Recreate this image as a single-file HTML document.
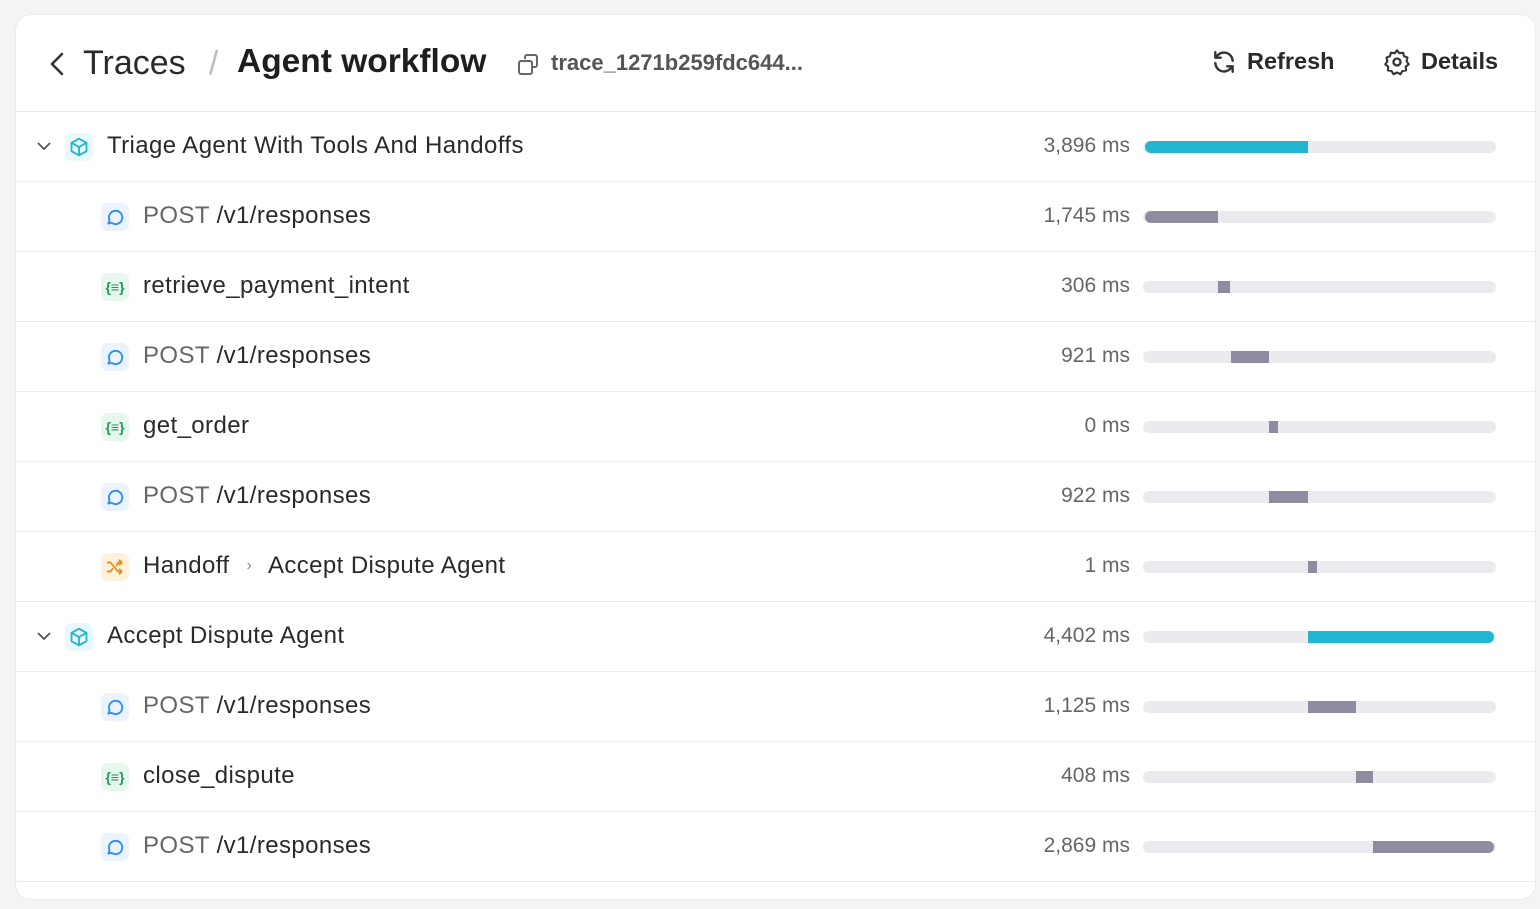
<!DOCTYPE html>
<html><head><meta charset="utf-8"><style>
*{box-sizing:border-box;margin:0;padding:0}
body{width:1540px;height:909px;background:#f4f4f5;font-family:"Liberation Sans",sans-serif;position:relative;overflow:hidden;color:#222}
.card{position:absolute;left:15px;top:14px;width:1521px;height:886px;background:#fff;border-radius:16px;border:1px solid #ececee}
.hdr{position:absolute;left:0;top:0;width:100%;height:97px;border-bottom:1px solid #e8e8ea}
.t{position:absolute;white-space:nowrap}
.row{position:absolute;left:0;width:100%;height:70px;border-bottom:1px solid #ececee}
.ic{position:absolute;top:21px;width:28px;height:28px;border-radius:7px;display:flex;align-items:center;justify-content:center}
.nm{position:absolute;top:20px;font-size:24px;letter-spacing:0.4px;color:#2a2a2a;white-space:nowrap}
.ms{position:absolute;right:405px;top:22px;font-size:21px;color:#666;white-space:nowrap}
.trk{position:absolute;left:1127px;top:29px;width:353px;height:12px;border-radius:6px;background:#ebebef;overflow:hidden}
.f{position:absolute;top:0;height:12px;background:#8e8ca0}
.c{background:#22b5d0}
</style></head><body>
<div class="card">
 <div class="hdr">
  <svg class="t" style="left:32px;top:36px" width="18" height="26" viewBox="0 0 18 26"><path d="M14 3 L4 13 L14 23" stroke="#333" stroke-width="2.6" fill="none" stroke-linecap="round" stroke-linejoin="round"/></svg>
  <div class="t" style="left:67px;top:29px;font-size:34px;color:#2a2a2a">Traces</div>
  <div class="t" style="left:193px;top:29px;font-size:33px;color:#bbb">/</div>
  <div class="t" style="left:221px;top:28px;font-size:33.5px;font-weight:bold;color:#1e1e1e">Agent workflow</div>
  <svg class="t" style="left:501px;top:38px" width="24" height="24" viewBox="0 0 24 24"><rect x="2" y="8" width="13" height="13" rx="2" fill="none" stroke="#666" stroke-width="2"/><path d="M8 6V4a2 2 0 0 1 2-2h8a2 2 0 0 1 2 2v8a2 2 0 0 1-2 2h-2" fill="none" stroke="#666" stroke-width="2"/></svg>
  <div class="t" style="left:535px;top:35px;font-size:22px;color:#555;font-weight:bold">trace_1271b259fdc644...</div>
  <svg class="t" style="left:1195px;top:34px" width="26" height="26" viewBox="0 0 24 24"><path d="M20 11a8 8 0 0 0-14-5L4 8M4 3v5h5M4 13a8 8 0 0 0 14 5l2-2M20 21v-5h-5" fill="none" stroke="#333" stroke-width="2.2" stroke-linecap="round" stroke-linejoin="round"/></svg>
  <div class="t" style="left:1231px;top:33px;font-size:23.5px;font-weight:bold;color:#2a2a2a">Refresh</div>
  <svg class="t" style="left:1367px;top:33px" width="28" height="28" viewBox="0 0 24 24"><path d="M12 2l2 2.5 3.2-.5.8 3 3 1.2-.8 3L22 14l-2.5 2 .3 3.2-3.2.5L15 22.5 12 21l-3 1.5-1.6-2.8-3.2-.5.3-3.2L2 14l1.8-2.8-.8-3L6 7l.8-3 3.2.5z" fill="none" stroke="#333" stroke-width="1.8" stroke-linejoin="round"/><circle cx="12" cy="12" r="3" fill="none" stroke="#333" stroke-width="2"/></svg>
  <div class="t" style="left:1405px;top:33px;font-size:23.5px;font-weight:bold;color:#2a2a2a">Details</div>
 </div>
 <div class="row" style="top:97px">
  <svg class="t" style="left:20px;top:28px" width="16" height="12"><path d="M2 3l6 6 6-6" stroke="#555" stroke-width="1.8" fill="none"/></svg>
  <div class="ic" style="left:49px;background:#e8f8fb"><svg width="20" height="20" viewBox="0 0 24 24"><path d="M12 2l9 5v10l-9 5-9-5V7z M3 7l9 5 9-5 M12 12v10" fill="none" stroke="#22b5d0" stroke-width="2.2" stroke-linejoin="round"/></svg></div>
  <div class="nm" style="left:91px">Triage Agent With Tools And Handoffs</div>
  <div class="ms">3,896 ms</div><div class="trk"><div class="f c" style="left:2px;width:163px;border-radius:6px 0 0 6px"></div></div>
 </div>
 <div class="row" style="top:167px">
  <div class="ic" style="left:85px;background:#eaf3fe"><svg width="20" height="20" viewBox="0 0 24 24"><path d="M4 20l1.5-4A8 8 0 1 1 8 19z" fill="none" stroke="#2d8cf0" stroke-width="2.2" stroke-linejoin="round"/></svg></div>
  <div class="nm" style="left:127px"><span style="color:#666">POST</span> /v1/responses</div>
  <div class="ms">1,745 ms</div><div class="trk"><div class="f" style="left:2px;width:73px;border-radius:6px 0 0 6px"></div></div>
 </div>
 <div class="row" style="top:237px">
  <div class="ic" style="left:85px;background:#e8f7ee;color:#1a9a5a;font-size:14px;font-weight:bold">{≡}</div>
  <div class="nm" style="left:127px">retrieve_payment_intent</div>
  <div class="ms">306 ms</div><div class="trk"><div class="f" style="left:75px;width:12px"></div></div>
 </div>
 <div class="row" style="top:307px">
  <div class="ic" style="left:85px;background:#eaf3fe"><svg width="20" height="20" viewBox="0 0 24 24"><path d="M4 20l1.5-4A8 8 0 1 1 8 19z" fill="none" stroke="#2d8cf0" stroke-width="2.2" stroke-linejoin="round"/></svg></div>
  <div class="nm" style="left:127px"><span style="color:#666">POST</span> /v1/responses</div>
  <div class="ms">921 ms</div><div class="trk"><div class="f" style="left:88px;width:38px"></div></div>
 </div>
 <div class="row" style="top:377px">
  <div class="ic" style="left:85px;background:#e8f7ee;color:#1a9a5a;font-size:14px;font-weight:bold">{≡}</div>
  <div class="nm" style="left:127px">get_order</div>
  <div class="ms">0 ms</div><div class="trk"><div class="f" style="left:126px;width:9px"></div></div>
 </div>
 <div class="row" style="top:447px">
  <div class="ic" style="left:85px;background:#eaf3fe"><svg width="20" height="20" viewBox="0 0 24 24"><path d="M4 20l1.5-4A8 8 0 1 1 8 19z" fill="none" stroke="#2d8cf0" stroke-width="2.2" stroke-linejoin="round"/></svg></div>
  <div class="nm" style="left:127px"><span style="color:#666">POST</span> /v1/responses</div>
  <div class="ms">922 ms</div><div class="trk"><div class="f" style="left:126px;width:39px"></div></div>
 </div>
 <div class="row" style="top:517px">
  <div class="ic" style="left:85px;background:#fdf1dc"><svg width="18" height="18" viewBox="0 0 24 24"><path d="M2 6h4l10 12h5M2 18h4l3-4M14 10l2-4h5M18 3l3 3-3 3M18 15l3 3-3 3" fill="none" stroke="#e08a10" stroke-width="2.2" stroke-linecap="round" stroke-linejoin="round"/></svg></div>
  <div class="nm" style="left:127px">Handoff <span style="color:#888;font-size:16px;margin:0 10px;position:relative;top:-3px">›</span> Accept Dispute Agent</div>
  <div class="ms">1 ms</div><div class="trk"><div class="f" style="left:165px;width:9px"></div></div>
 </div>
 <div class="row" style="top:587px">
  <svg class="t" style="left:20px;top:28px" width="16" height="12"><path d="M2 3l6 6 6-6" stroke="#555" stroke-width="1.8" fill="none"/></svg>
  <div class="ic" style="left:49px;background:#e8f8fb"><svg width="20" height="20" viewBox="0 0 24 24"><path d="M12 2l9 5v10l-9 5-9-5V7z M3 7l9 5 9-5 M12 12v10" fill="none" stroke="#22b5d0" stroke-width="2.2" stroke-linejoin="round"/></svg></div>
  <div class="nm" style="left:91px">Accept Dispute Agent</div>
  <div class="ms">4,402 ms</div><div class="trk"><div class="f c" style="left:165px;width:186px;border-radius:0 6px 6px 0"></div></div>
 </div>
 <div class="row" style="top:657px">
  <div class="ic" style="left:85px;background:#eaf3fe"><svg width="20" height="20" viewBox="0 0 24 24"><path d="M4 20l1.5-4A8 8 0 1 1 8 19z" fill="none" stroke="#2d8cf0" stroke-width="2.2" stroke-linejoin="round"/></svg></div>
  <div class="nm" style="left:127px"><span style="color:#666">POST</span> /v1/responses</div>
  <div class="ms">1,125 ms</div><div class="trk"><div class="f" style="left:165px;width:48px"></div></div>
 </div>
 <div class="row" style="top:727px">
  <div class="ic" style="left:85px;background:#e8f7ee;color:#1a9a5a;font-size:14px;font-weight:bold">{≡}</div>
  <div class="nm" style="left:127px">close_dispute</div>
  <div class="ms">408 ms</div><div class="trk"><div class="f" style="left:213px;width:17px"></div></div>
 </div>
 <div class="row" style="top:797px">
  <div class="ic" style="left:85px;background:#eaf3fe"><svg width="20" height="20" viewBox="0 0 24 24"><path d="M4 20l1.5-4A8 8 0 1 1 8 19z" fill="none" stroke="#2d8cf0" stroke-width="2.2" stroke-linejoin="round"/></svg></div>
  <div class="nm" style="left:127px"><span style="color:#666">POST</span> /v1/responses</div>
  <div class="ms">2,869 ms</div><div class="trk"><div class="f" style="left:230px;width:121px;border-radius:0 6px 6px 0"></div></div>
 </div>
</div>
</body></html>
